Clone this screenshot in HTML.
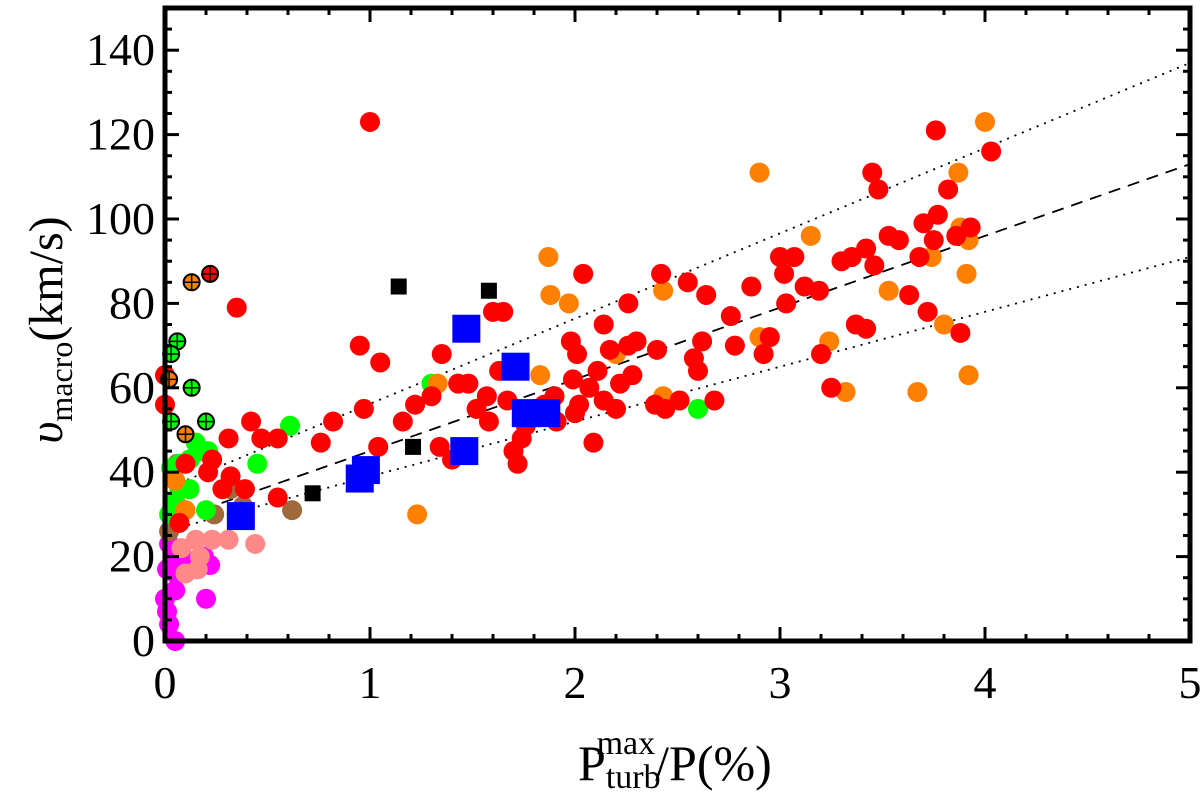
<!DOCTYPE html>
<html><head><meta charset="utf-8"><style>
body{margin:0;background:#fff}
svg{display:block}
text{font-family:"Liberation Serif",serif;fill:#000}
</style></head><body>
<svg id="chart" width="1200" height="794">
<g id="grid"></g>
<g id="lines"></g>
<g id="marks"></g>
<g id="axes"></g>
<text x="578" y="780" font-size="50">P<tspan font-size="34" dy="8">turb</tspan><tspan font-size="34" dx="-64" dy="-34">max</tspan><tspan dy="26">/P(%)</tspan></text>
<text transform="translate(62,330) rotate(-90)" font-size="48" text-anchor="middle"><tspan font-style="italic">υ</tspan><tspan font-size="32" dy="10">macro</tspan><tspan dy="-10">(km/s)</tspan></text>
</svg>
<script>
const redX=[1.0,0.35,0.95,1.05,0.97,1.04,0.42,0.47,0.55,0.31,0.23,0.21,0.32,0.39,0.28,0.55,0.76,0.82,1.16,1.22,1.35,1.3,1.43,1.48,1.34,1.4,1.52,1.57,1.63,1.65,1.6,1.58,1.67,1.72,1.7,1.74,1.76,1.8,1.85,1.9,1.91,1.99,1.98,2.01,2.02,2.0,2.04,2.07,2.09,2.11,2.14,2.17,2.14,2.2,2.22,2.26,2.26,2.3,2.28,2.39,2.4,2.42,2.44,2.51,2.55,2.58,2.6,2.62,2.64,2.68,2.76,2.78,2.86,2.92,2.95,3.0,3.03,3.02,3.07,3.12,3.19,3.2,3.25,3.3,3.35,3.37,3.42,3.42,3.46,3.45,3.48,3.53,3.58,3.63,3.68,3.7,3.72,3.75,3.76,3.77,3.82,3.86,3.88,3.93,4.03,0,0,0.1,0.07];
const redY=[123,79,70,66,55,46,52,48,48,48,43,40,39,36,36,34,47,52,52,56,68,58,61,61,46,43,55,58,64,78,78,52,57,42,45,48,51,54,56,58,52,62,71,68,56,54,87,60,47,64,75,69,57,55,61,80,70,71,63,56,69,87,55,57,85,67,64,71,82,57,77,70,84,68,72,91,80,87,91,84,83,68,60,90,91,75,74,93,89,111,107,96,95,82,91,99,78,95,121,101,107,96,73,98,116,63,56,42,28];
const orangeX=[4.0,3.87,3.88,3.91,3.92,3.92,3.8,3.74,3.53,3.67,3.32,3.24,3.15,2.95,2.9,2.9,2.43,2.43,2.2,1.97,1.88,1.87,1.83,1.23,1.33,0.1,0.05];
const orangeY=[123,111,98,87,95,63,75,91,83,59,59,71,96,72,72,111,83,58,68,80,82,91,63,30,61,31,38];
const brownX=[0.06,0.32,0.24,0.62,0.38,0.02];
const brownY=[42,36,30,31,32,26];
const greenX=[0.61,0.45,1.3,2.6,0.15,0.12,0.17,0.21,0.07,0.07,0.12,0.05,0.2,0.02,0.03];
const greenY=[51,42,61,55,47,43,45,45,42,36,36,33,31,30,41];
const pinkX=[0.15,0.23,0.31,0.44,0.17,0.1,0.16,0.08];
const pinkY=[24,24,24,23,20,16,17,22];
const magentaX=[0.02,0.06,0.1,0.14,0.19,0.22,0.12,0.05,0.08,0.05,0.2,0.01,0.02,0.05,0.01,0.0];
const magentaY=[23,20,19,19,20,18,17,16,18,12,10,7,4,0,17,10];
const crossX=[0.22,0.13,0.06,0.03,0.13,0.2,0.03,0.1,0.02];
const crossY=[87,85,71,68,60,52,52,49,62];
const crossC=["#f00","#ff8000","#0f0","#0f0","#0f0","#0f0","#0f0","#ff8000","#ff8000"];
const blackX=[1.14,1.58,1.21,0.72];
const blackY=[84,83,46,35];
const blueX=[1.47,1.71,1.76,1.86,1.46,0.95,0.98,0.37];
const blueY=[74,65,54,54,45,38.5,40.5,29.6];
const fitIntercept=[26,28,36];
const fitSlope=[13,17,20.2];
const xTicks=[0,1,2,3,4,5];
const yTicks=[0,20,40,60,80,100,120,140];

const X0=165,X1=1190,Y0=641,Y1=8;
const sx=v=>X0+(v/5)*(X1-X0);
const sy=v=>Y0-(v/150)*(Y0-Y1);
const NS="http://www.w3.org/2000/svg";
function mk(tag,attrs,parent){const e=document.createElementNS(NS,tag);for(const k in attrs)e.setAttribute(k,attrs[k]);document.getElementById(parent).appendChild(e);return e;}

const styles=["2,6","12,8","2,6"];
const lnames=["lower-dotted-line","dashed-fit-line","upper-dotted-line"];
for(let i=0;i<3;i++){
 const l=mk("line",{x1:sx(0),y1:sy(fitIntercept[i]),x2:sx(5),y2:sy(fitIntercept[i]+5*fitSlope[i]),stroke:"#000","stroke-width":1.8,"stroke-dasharray":styles[i]},"lines");
 
 
}
function circles(xs,ys,col,r,name){
 for(let i=0;i<xs.length;i++){
  const c=mk("circle",{cx:sx(xs[i]),cy:sy(ys[i]),r:r,fill:col},"marks");
  
  
 }
}
circles(magentaX,magentaY,"#f0f",10,"magenta-point");
circles(pinkX,pinkY,"#f88",10,"pink-point");
circles(brownX,brownY,"#a0693c",10,"brown-point");
circles(greenX,greenY,"#0f0",10,"green-point");
circles(orangeX,orangeY,"#ff8000",10,"orange-point");
circles(redX,redY,"#f00",10,"red-point");
for(let i=0;i<crossX.length;i++){
 const g=document.createElementNS(NS,"g");
 
 
 document.getElementById("marks").appendChild(g);
 const cx=sx(crossX[i]),cy=sy(crossY[i]);
 g.innerHTML=`<circle cx="${cx}" cy="${cy}" r="8" fill="${crossC[i]}" stroke="#000" stroke-width="2"/><line x1="${cx-8}" y1="${cy}" x2="${cx+8}" y2="${cy}" stroke="#000" stroke-width="1.5"/><line x1="${cx}" y1="${cy-8}" x2="${cx}" y2="${cy+8}" stroke="#000" stroke-width="1.5"/>`;
}
for(let i=0;i<blackX.length;i++){
 const r=mk("rect",{x:sx(blackX[i])-8,y:sy(blackY[i])-8,width:16,height:16,fill:"#000"},"marks");
 
 
}
for(let i=0;i<blueX.length;i++){
 const r=mk("rect",{x:sx(blueX[i])-14,y:sy(blueY[i])-14,width:28,height:28,fill:"#00f"},"marks");
 
 
}
const fr=mk("rect",{x:X0,y:Y1,width:X1-X0,height:Y0-Y1,fill:"none",stroke:"#000","stroke-width":5},"axes");


for(let v=0;v<=5.001;v+=0.2){
 const major=Math.abs(v-Math.round(v))<0.01, len=major?14:7, x=sx(v);
 mk("line",{x1:x,y1:Y0,x2:x,y2:Y0-len,stroke:"#000","stroke-width":3},"axes");
 mk("line",{x1:x,y1:Y1,x2:x,y2:Y1+len,stroke:"#000","stroke-width":3},"axes");
}
for(let v=0;v<=150;v+=5){
 const major=v%20===0, len=major?14:7, y=sy(v);
 mk("line",{x1:X0,y1:y,x2:X0+len,y2:y,stroke:"#000","stroke-width":3},"axes");
 mk("line",{x1:X1,y1:y,x2:X1-len,y2:y,stroke:"#000","stroke-width":3},"axes");
}
xTicks.forEach(v=>{
 const t=mk("text",{x:sx(v),y:698,"font-size":46,"text-anchor":"middle"},"axes");
 t.textContent=v;
 
 
});
yTicks.forEach(v=>{
 const t=mk("text",{x:155,y:sy(v)+15,"font-size":46,"text-anchor":"end"},"axes");
 t.textContent=v;
 
 
});
</script>
</body></html>
